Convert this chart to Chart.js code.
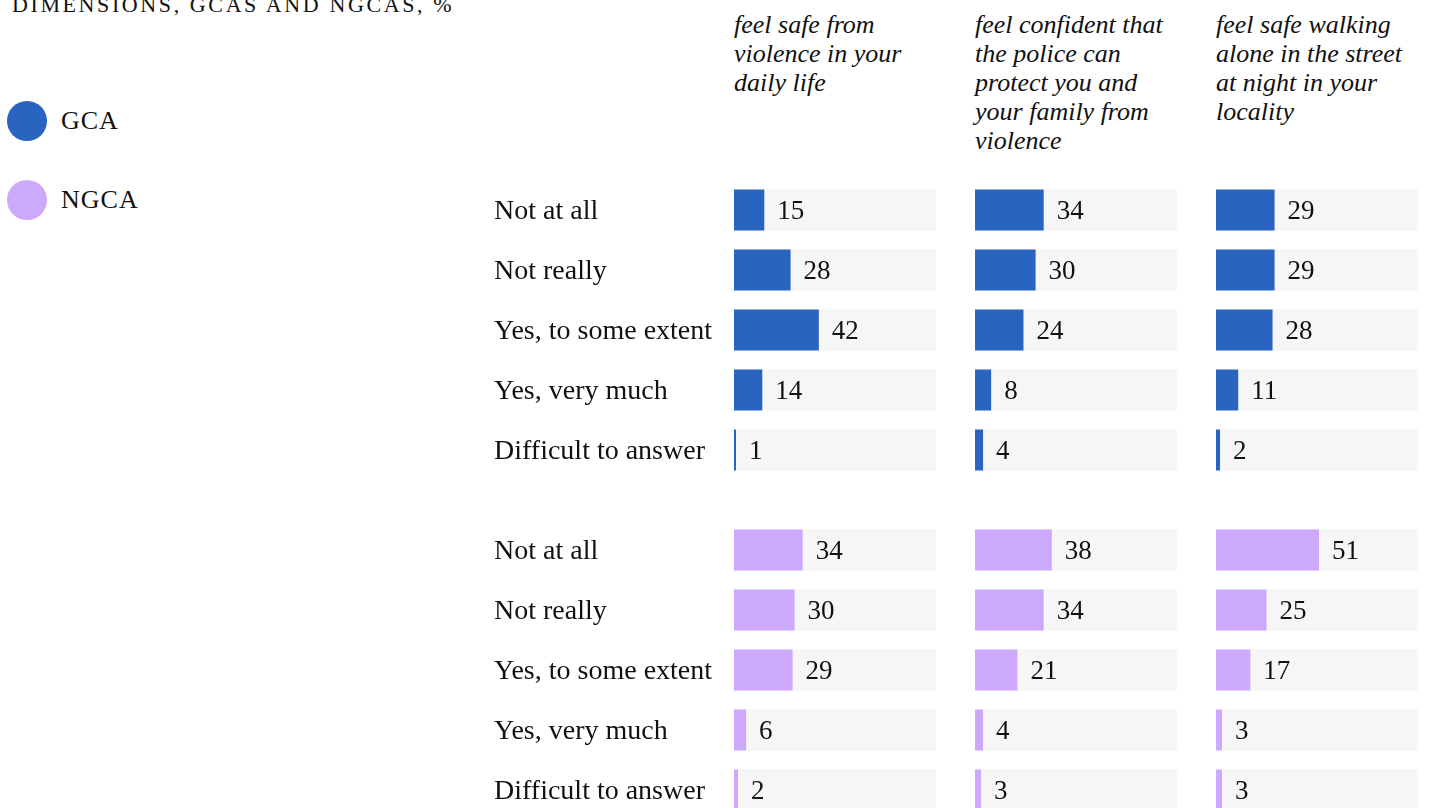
<!DOCTYPE html>
<html>
<head>
<meta charset="utf-8">
<script src="https://cdn.jsdelivr.net/npm/chart.js@4"></script>
<style>
  html, body {
    margin: 0;
    padding: 0;
    background: #fff;
    overflow: hidden;
    width: 1429px;
    height: 808px;
    font-family: "Liberation Serif", serif;
    color: #111;
  }
  .title {
    position: absolute;
    left: 12px;
    top: -6px;
    font-size: 22px;
    line-height: 22px;
    letter-spacing: 2.6px;
    white-space: nowrap;
  }
  .legend-item {
    position: absolute;
    left: 7px;
    height: 40px;
    display: flex;
    align-items: center;
    font-size: 26px;
    letter-spacing: 1px;
  }
  .legend-item .dot {
    width: 40px;
    height: 40px;
    border-radius: 50%;
    margin-right: 14px;
  }
  .header {
    position: absolute;
    top: 10px;
    width: 204px;
    font-style: italic;
    font-size: 26px;
    line-height: 29px;
  }
  canvas {
    position: absolute;
  }
</style>
</head>
<body>
<div class="title">DIMENSIONS, GCAS AND NGCAS, %</div>
<div id="legend"></div>
<div id="headers"></div>

<canvas id="gca0" width="442" height="300" style="left:494px; top:180px"></canvas>
<canvas id="gca1" width="202" height="300" style="left:975px; top:180px"></canvas>
<canvas id="gca2" width="202" height="300" style="left:1216px; top:180px"></canvas>
<canvas id="ngca0" width="442" height="300" style="left:494px; top:520px"></canvas>
<canvas id="ngca1" width="202" height="300" style="left:975px; top:520px"></canvas>
<canvas id="ngca2" width="202" height="300" style="left:1216px; top:520px"></canvas>

<script>
const answers = ["Not at all", "Not really", "Yes, to some extent", "Yes, very much", "Difficult to answer"];
const questions = [
  "feel safe from violence in your daily life",
  "feel confident that the police can protect you and your family from violence",
  "feel safe walking alone in the street at night in your locality",
];
const groups = ["GCA", "NGCA"];

// % of respondents, one array per question
const gcaSafe = [15, 28, 42, 14, 1];
const gcaPolice = [34, 30, 24, 8, 4];
const gcaNight = [29, 29, 28, 11, 2];
const ngcaSafe = [34, 30, 29, 6, 2];
const ngcaPolice = [38, 34, 21, 4, 3];
const ngcaNight = [51, 25, 17, 3, 3];

const groupColors = ["#2a64c1", "#cca9fc"];
const trackColor = "#f6f6f6";
const textColor = "#111";
const labelFont = { family: "'Liberation Serif', serif", size: 27 };
const answerFont = { family: "'Liberation Serif', serif", size: 28 };

// Legend and column headers as plain HTML
const legend = document.getElementById("legend");
groups.forEach((g, i) => {
  const item = document.createElement("div");
  item.className = "legend-item";
  item.style.top = (101 + i * 79) + "px";
  item.innerHTML = `<span class="dot" style="background:${groupColors[i]}"></span>${g}`;
  legend.appendChild(item);
});

const headerLeft = [734, 975, 1216];
const headers = document.getElementById("headers");
questions.forEach((q, i) => {
  const h = document.createElement("div");
  h.className = "header";
  h.style.left = headerLeft[i] + "px";
  h.textContent = q;
  headers.appendChild(h);
});

// Writes the value just right of each bar end
const valueLabels = {
  id: "valueLabels",
  afterDatasetsDraw(chart) {
    const ctx = chart.ctx;
    const meta = chart.getDatasetMeta(0);
    const values = chart.data.datasets[0].data;
    ctx.save();
    ctx.font = `${labelFont.size}px ${labelFont.family}`;
    ctx.fillStyle = textColor;
    ctx.textAlign = "left";
    ctx.textBaseline = "middle";
    meta.data.forEach((bar, i) => {
      ctx.fillText(values[i], bar.x + 13, bar.y + 2);
    });
    ctx.restore();
  },
};

function makeChart(id, values, color, showAnswers) {
  const ctx = document.getElementById(id).getContext("2d");
  const yScale = {
    display: showAnswers,
    grid: { display: false },
    border: { display: false },
    ticks: {
      crossAlign: "far",
      padding: 0,
      labelOffset: 2,
      color: textColor,
      font: answerFont,
    },
  };
  if (showAnswers) {
    // fixed label column so the bars line up with the other panels
    yScale.afterFit = (scale) => {
      scale.width = 240;
      scale.paddingTop = 0;
      scale.paddingBottom = 0;
    };
  }

  return new Chart(ctx, {
    type: "bar",
    data: {
      labels: answers,
      datasets: [
        {
          data: values,
          backgroundColor: color,
          order: 0,
        },
        {
          // light grey track behind each bar
          data: answers.map(() => 100),
          backgroundColor: trackColor,
          order: 1,
        },
      ],
    },
    options: {
      indexAxis: "y",
      responsive: false,
      animation: false,
      events: [],
      layout: { padding: 0 },
      datasets: {
        bar: {
          grouped: false,
          barPercentage: 0.683,
          categoryPercentage: 1,
          borderWidth: 0,
        },
      },
      plugins: {
        legend: { display: false },
        tooltip: { enabled: false },
      },
      scales: {
        x: {
          display: false,
          min: 0,
          max: 100,
        },
        y: yScale,
      },
    },
    plugins: [valueLabels],
  });
}

makeChart("gca0", gcaSafe, groupColors[0], true);
makeChart("gca1", gcaPolice, groupColors[0], false);
makeChart("gca2", gcaNight, groupColors[0], false);
makeChart("ngca0", ngcaSafe, groupColors[1], true);
makeChart("ngca1", ngcaPolice, groupColors[1], false);
makeChart("ngca2", ngcaNight, groupColors[1], false);
</script>
</body>
</html>
